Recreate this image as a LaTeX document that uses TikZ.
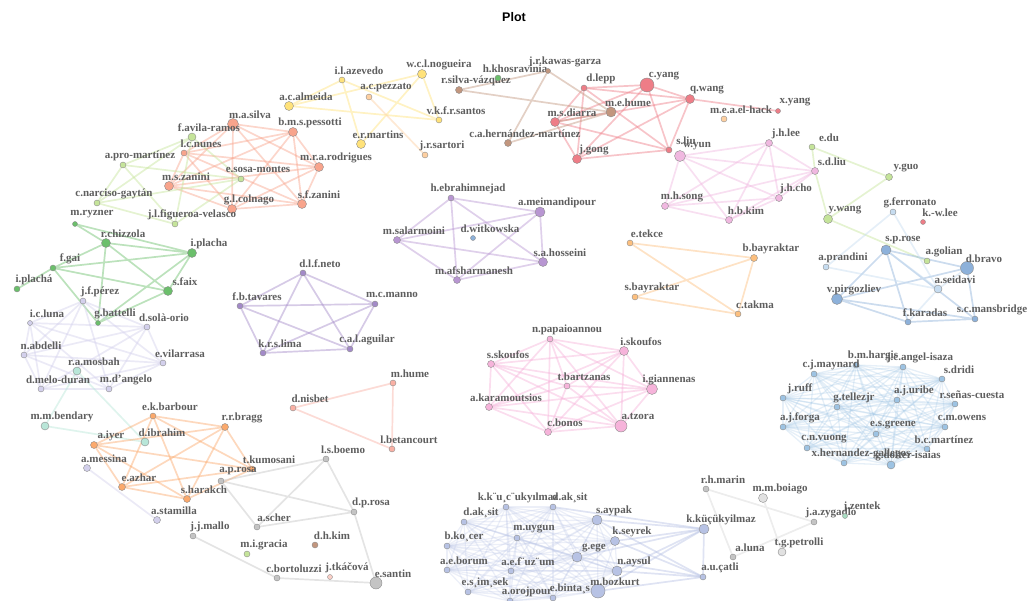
\documentclass[tikz,border=0pt]{standalone}
\usepackage{fontspec}
\setmainfont{Liberation Serif}
\newfontfamily\titlefont{Liberation Sans}
\usetikzlibrary{positioning}

\definecolor{labgray}{HTML}{5E5E5E}
\definecolor{cYel}{HTML}{FFE27A}
\definecolor{cPeach}{HTML}{FDCFA0}
\definecolor{cSalmon}{HTML}{F8A48C}
\definecolor{cLgreen}{HTML}{C5E49A}
\definecolor{cGreen}{HTML}{6BBF6B}
\definecolor{cLav}{HTML}{D3D0EC}
\definecolor{cTeal}{HTML}{B8E6D8}
\definecolor{cOrange}{HTML}{FBA96C}
\definecolor{cGray}{HTML}{C4C4C4}
\definecolor{cCoral}{HTML}{F9B0A4}
\definecolor{cPurp}{HTML}{B896D2}
\definecolor{cViolet}{HTML}{A38AC8}
\definecolor{cPink}{HTML}{F6B3DA}
\definecolor{cLorange}{HTML}{FCBF7E}
\definecolor{cRed}{HTML}{EE7D87}
\definecolor{cBrown}{HTML}{C2967E}
\definecolor{cLilac}{HTML}{F0B8E0}
\definecolor{cBlue}{HTML}{8DB1DA}
\definecolor{cLblue}{HTML}{C6DCF0}
\definecolor{cSteel}{HTML}{9DC3E3}
\definecolor{cPeri}{HTML}{B7C2E4}

\pgfdeclarelayer{ties}
\pgfsetlayers{ties,main}

\begin{document}
\begin{tikzpicture}[
  x=1pt, y=-1pt,
  au/.style={circle, draw=black!45, line width=0.4pt, inner sep=0pt, minimum size=6pt},
  lab/.style={font=\bfseries\fontsize{11}{12}\selectfont, text=labgray, inner sep=0pt,
              xshift=17pt, yshift=9.5pt},
  tie/.style={line width=1.7pt, draw opacity=0.45, line cap=round},
  thin tie/.style={line width=1.3pt, draw opacity=0.26, line cap=round}
]
\useasboundingbox (0,0) rectangle (1028,601);

\node[font=\titlefont\bfseries\fontsize{12.5}{14}\selectfont] (title) at (514,17) {Plot};

%--------------------------------------------------------------
% Gruppo giallo (azevedo, nogueira, ...)
%--------------------------------------------------------------
\node[au, fill=cYel, label={[lab]center:i.l.azevedo}] (azevedo) at (342,80) {};
\node[au, fill=cYel, minimum size=9pt, label={[lab]center:w.c.l.nogueira}] (nogueira) at (422,74) {};
\node[au, fill=cPeach, label={[lab]center:a.c.pezzato}] (pezzato) at (369,97) {};
\node[au, fill=cYel, minimum size=9pt, label={[lab]center:a.c.almeida}] (almeida) at (289,106) {};
\node[au, fill=cYel, label={[lab]center:v.k.f.r.santos}] (santos) at (439,120) {};
\node[au, fill=cYel, minimum size=9pt, label={[lab]center:e.r.martins}] (martins) at (361,144) {};
\node[au, fill=cPeach, label={[lab]center:j.r.sartori}] (sartori) at (425,155) {};

%--------------------------------------------------------------
% Gruppo salmone e verde chiaro
%--------------------------------------------------------------
\node[au, fill=cSalmon, minimum size=11pt, label={[lab]center:m.a.silva}] (masilva) at (233,124) {};
\node[au, fill=cSalmon, minimum size=9pt, label={[lab]center:b.m.s.pessotti}] (pessotti) at (293,132) {};
\node[au, fill=cSalmon, minimum size=9pt, label={[lab]center:m.r.a.rodrigues}] (rodrigues) at (319,167) {};
\node[au, fill=cSalmon, label={[lab]center:l.c.nunes}] (nunes) at (184,153) {};
\node[au, fill=cSalmon, minimum size=9pt, label={[lab]center:m.s.zanini}] (mszanini) at (169,186) {};
\node[au, fill=cSalmon, minimum size=9pt, label={[lab]center:g.l.colnago}] (colnago) at (232,209) {};
\node[au, fill=cSalmon, minimum size=9pt, label={[lab]center:s.f.zanini}] (sfzanini) at (302,204) {};
\node[au, fill=cLgreen, minimum size=8pt, label={[lab]center:f.avila-ramos}] (avila) at (192,137) {};
\node[au, fill=cLgreen, label={[lab]center:a.pro-martínez}] (promart) at (123,165) {};
\node[au, fill=cLgreen, label={[lab]center:e.sosa-montes}] (sosa) at (241,179) {};
\node[au, fill=cLgreen, label={[lab]center:c.narciso-gaytán}] (narciso) at (97,203) {};
\node[au, fill=cLgreen, label={[lab]center:j.l.figueroa-velasco}] (figueroa) at (175,224) {};

%--------------------------------------------------------------
% Gruppo verde
%--------------------------------------------------------------
\node[au, fill=cGreen, minimum size=5pt, label={[lab]center:m.ryzner}] (ryzner) at (75,224) {};
\node[au, fill=cGreen, minimum size=9pt, label={[lab]center:r.chizzola}] (chizzola) at (106,243) {};
\node[au, fill=cGreen, minimum size=9pt, label={[lab]center:i.placha}] (placha) at (192,253) {};
\node[au, fill=cGreen, label={[lab]center:f.gai}] (gai) at (53,268) {};
\node[au, fill=cGreen, label={[lab]center:i.plachá}] (placha2) at (17,289) {};
\node[au, fill=cGreen, minimum size=9pt, label={[lab]center:s.faix}] (faix) at (168,291) {};
\node[au, fill=cGreen, minimum size=5pt, label={[lab]center:g.battelli}] (battelli) at (98,323) {};

%--------------------------------------------------------------
% Gruppo lavanda e acqua
%--------------------------------------------------------------
\node[au, fill=cLav, label={[lab]center:j.f.pérez}] (perez) at (83,301) {};
\node[au, fill=cLav, minimum size=5pt, label={[lab]center:i.c.luna}] (luna) at (30,323) {};
\node[au, fill=cLav, label={[lab]center:d.solà-orio}] (sola) at (147,327) {};
\node[au, fill=cLav, label={[lab]center:n.abdelli}] (abdelli) at (24,355) {};
\node[au, fill=cLav, label={[lab]center:e.vilarrasa}] (vilarrasa) at (163,363) {};
\node[au, fill=cTeal, minimum size=8pt, label={[lab]center:r.a.mosbah}] (mosbah) at (77,371) {};
\node[au, fill=cLav, label={[lab]center:d.melo-duran}] (melo) at (41,389) {};
\node[au, fill=cLav, label={[lab]center:m.d'angelo}] (dangelo) at (109,389) {};

%--------------------------------------------------------------
% Gruppo arancio
%--------------------------------------------------------------
\node[au, fill=cTeal, minimum size=8pt, label={[lab]center:m.m.bendary}] (bendary) at (45,426) {};
\node[au, fill=cOrange, label={[lab]center:e.k.barbour}] (barbour) at (153,416) {};
\node[au, fill=cOrange, minimum size=7pt, label={[lab]center:r.r.bragg}] (bragg) at (225,427) {};
\node[au, fill=cOrange, minimum size=7pt, label={[lab]center:a.iyer}] (iyer) at (94,445) {};
\node[au, fill=cTeal, minimum size=8pt, label={[lab]center:d.ibrahim}] (ibrahim) at (145,442) {};
\node[au, fill=cLav, minimum size=7pt, label={[lab]center:a.messina}] (messina) at (87,468) {};
\node[au, fill=cOrange, label={[lab]center:t.kumosani}] (kumosani) at (252,469) {};
\node[au, fill=cGray, label={[lab]center:a.p.rosa}] (aprosa) at (221,481) {};
\node[au, fill=cOrange, minimum size=7pt, label={[lab]center:e.azhar}] (azhar) at (122,487) {};
\node[au, fill=cOrange, minimum size=7pt, label={[lab]center:s.harakch}] (harakch) at (187,499) {};
\node[au, fill=cLav, minimum size=7pt, label={[lab]center:a.stamilla}] (stamilla) at (157,520) {};
\node[au, fill=cGray, label={[lab]center:j.j.mallo}] (mallo) at (193,536) {};
\node[au, fill=cLgreen, label={[lab]center:m.i.gracia}] (gracia) at (247,554) {};
\node[au, fill=cGray, label={[lab]center:c.bortoluzzi}] (bortoluzzi) at (277,578) {};

%--------------------------------------------------------------
% Gruppo grigio e corallo
%--------------------------------------------------------------
\node[au, fill=cGray, label={[lab]center:l.s.boemo}] (boemo) at (326,459) {};
\node[au, fill=cGray, label={[lab]center:d.p.rosa}] (dprosa) at (354,512) {};
\node[au, fill=cGray, label={[lab]center:a.scher}] (scher) at (257,527) {};
\node[au, fill=cBrown, label={[lab]center:d.h.kim}] (dhkim) at (315,545) {};
\node[au, fill=cCoral!60, minimum size=5pt, label={[lab]center:j.tkáčová}] (tkacova) at (330,577) {};
\node[au, fill=cGray, minimum size=12pt, label={[lab]center:e.santin}] (santin) at (376,583) {};
\node[au, fill=cCoral, label={[lab]center:d.nisbet}] (nisbet) at (293,408) {};
\node[au, fill=cCoral, label={[lab]center:m.hume}] (mhume) at (393,383) {};
\node[au, fill=cCoral, label={[lab]center:l.betancourt}] (betancourt) at (392,449) {};

%--------------------------------------------------------------
% Gruppi viola
%--------------------------------------------------------------
\node[au, fill=cPurp, label={[lab]center:h.ebrahimnejad}] (ebrahim) at (451,198) {};
\node[au, fill=cPurp, minimum size=10pt, label={[lab]center:a.meimandipour}] (meiman) at (540,212) {};
\node[au, fill=cPurp, minimum size=7pt, label={[lab]center:m.salarmoini}] (salarm) at (397,240) {};
\node[au, fill=cBlue, minimum size=5pt, label={[lab]center:d.witkowska}] (witkow) at (473,238) {};
\node[au, fill=cPurp, minimum size=9pt, label={[lab]center:s.a.hosseini}] (hosseini) at (543,262) {};
\node[au, fill=cPurp, minimum size=7pt, label={[lab]center:m.afsharmanesh}] (afshar) at (457,280) {};
\node[au, fill=cViolet, label={[lab]center:d.l.f.neto}] (neto) at (303,273) {};
\node[au, fill=cViolet, label={[lab]center:f.b.tavares}] (tavares) at (240,306) {};
\node[au, fill=cViolet, label={[lab]center:m.c.manno}] (manno) at (375,304) {};
\node[au, fill=cViolet, label={[lab]center:k.r.s.lima}] (lima) at (263,353) {};
\node[au, fill=cViolet, label={[lab]center:c.a.l.aguilar}] (aguilar) at (350,349) {};

%--------------------------------------------------------------
% Gruppo rosa e arancio chiaro
%--------------------------------------------------------------
\node[au, fill=cPink, label={[lab]center:n.papaioannou}] (papaio) at (550,339) {};
\node[au, fill=cPink, minimum size=9pt, label={[lab]center:i.skoufos}] (iskoufos) at (624,351) {};
\node[au, fill=cPink, minimum size=7pt, label={[lab]center:s.skoufos}] (sskoufos) at (491,364) {};
\node[au, fill=cPink, label={[lab]center:t.bartzanas}] (bartz) at (567,386) {};
\node[au, fill=cPink, minimum size=11pt, label={[lab]center:i.giannenas}] (giann) at (652,389) {};
\node[au, fill=cPink, minimum size=7pt, label={[lab]center:a.karamoutsios}] (karam) at (489,407) {};
\node[au, fill=cPink, minimum size=7pt, label={[lab]center:c.bonos}] (bonos) at (548,432) {};
\node[au, fill=cPink, minimum size=12pt, label={[lab]center:a.tzora}] (tzora) at (621,426) {};
\node[au, fill=cLorange, label={[lab]center:e.tekce}] (tekce) at (630,243) {};
\node[au, fill=cLorange, minimum size=7pt, label={[lab]center:b.bayraktar}] (bbayr) at (754,258) {};
\node[au, fill=cLorange, label={[lab]center:s.bayraktar}] (sbayr) at (635,297) {};
\node[au, fill=cLorange, label={[lab]center:c.takma}] (takma) at (738,314) {};

%--------------------------------------------------------------
% Gruppo rosso e marrone
%--------------------------------------------------------------
\node[au, fill=cRed, label={[lab]center:d.lepp}] (dlepp) at (584,88) {};
\node[au, fill=cRed, minimum size=14pt, label={[lab]center:c.yang}] (cyang) at (647,85) {};
\node[au, fill=cRed, minimum size=9pt, label={[lab]center:q.wang}] (qwang) at (690,99) {};
\node[au, fill=cBrown, minimum size=10pt, label={[lab]center:m.e.hume}] (mehume) at (611,112) {};
\node[au, fill=cRed, minimum size=9pt, label={[lab]center:m.s.diarra}] (diarra) at (555,122) {};
\node[au, fill=cPeach, label={[lab]center:m.e.a.el-hack}] (elhack) at (724,119) {};
\node[au, fill=cRed, minimum size=5pt, label={[lab]center:x.yang}] (xyang) at (778,111) {};
\node[au, fill=cRed, minimum size=9pt, label={[lab]center:j.gong}] (jgong) at (577,159) {};
\node[au, fill=cRed, label={[lab]center:s.liu}] (sliu) at (669,150) {};
\node[au, fill=cLilac, minimum size=11pt, label={[lab]center:w.yun}] (wyun) at (680,156) {};
\node[au, fill=cBrown, minimum size=7pt, label={[lab]center:r.silva-vázquez}] (silva) at (459,90) {};
\node[au, fill=cGreen, label={[lab]center:h.khosravinia}] (khosra) at (498,78) {};
\node[au, fill=cBrown, minimum size=5pt, label={[lab]center:j.r.kawas-garza}] (kawas) at (548,71) {};
\node[au, fill=cBrown, minimum size=7pt, label={[lab]center:c.a.hernández-martínez}] (hernandez) at (508,143) {};

%--------------------------------------------------------------
% Gruppo lilla e verde chiaro a destra
%--------------------------------------------------------------
\node[au, fill=cLilac, minimum size=7pt, label={[lab]center:j.h.lee}] (jhlee) at (769,143) {};
\node[au, fill=cLilac, minimum size=7pt, label={[lab]center:s.d.liu}] (sdliu) at (815,171) {};
\node[au, fill=cLilac, minimum size=7pt, label={[lab]center:j.h.cho}] (jhcho) at (779,198) {};
\node[au, fill=cLilac, minimum size=7pt, label={[lab]center:m.h.song}] (mhsong) at (665,206) {};
\node[au, fill=cLilac, minimum size=7pt, label={[lab]center:h.b.kim}] (hbkim) at (729,220) {};
\node[au, fill=cLgreen, label={[lab]center:e.du}] (edu) at (812,147) {};
\node[au, fill=cLgreen, minimum size=7pt, label={[lab]center:y.guo}] (yguo) at (889,177) {};
\node[au, fill=cLgreen, minimum size=9pt, label={[lab]center:y.wang}] (ywang) at (828,219) {};
\node[au, fill=cLgreen, label={[lab]center:a.golian}] (golian) at (927,261) {};

%--------------------------------------------------------------
% Gruppo blu (rose, bravo, ...)
%--------------------------------------------------------------
\node[au, fill=cLblue, label={[lab]center:g.ferronato}] (ferron) at (893,212) {};
\node[au, fill=cRed, minimum size=5pt, label={[lab]center:k.-w.lee}] (kwlee) at (923,222) {};
\node[au, fill=cBlue, minimum size=10pt, label={[lab]center:s.p.rose}] (sprose) at (886,250) {};
\node[au, fill=cLblue, label={[lab]center:a.prandini}] (prandini) at (826,267) {};
\node[au, fill=cBlue, minimum size=13pt, label={[lab]center:d.bravo}] (bravo) at (967,268) {};
\node[au, fill=cLblue, minimum size=8pt, label={[lab]center:a.seidavi}] (seidavi) at (938,289) {};
\node[au, fill=cBlue, minimum size=11pt, label={[lab]center:v.pirgozliev}] (pirgo) at (837,299) {};
\node[au, fill=cBlue, label={[lab]center:f.karadas}] (karadas) at (908,322) {};
\node[au, fill=cBlue, label={[lab]center:s.c.mansbridge}] (mansb) at (975,319) {};

%--------------------------------------------------------------
% Gruppo azzurro denso
%--------------------------------------------------------------
\node[au, fill=cSteel, label={[lab]center:b.m.hargis}] (hargis) at (856,365) {};
\node[au, fill=cSteel, label={[lab]center:j.c.angel-isaza}] (angel) at (903,367) {};
\node[au, fill=cSteel, label={[lab]center:c.j.maynard}] (maynard) at (814,374) {};
\node[au, fill=cSteel, label={[lab]center:s.dridi}] (dridi) at (942,379) {};
\node[au, fill=cSteel, label={[lab]center:j.ruff}] (ruff) at (783,398) {};
\node[au, fill=cSteel, label={[lab]center:a.j.uribe}] (uribe) at (897,400) {};
\node[au, fill=cSteel, label={[lab]center:g.tellezjr}] (tellez) at (837,407) {};
\node[au, fill=cSteel, label={[lab]center:r.señas-cuesta}] (senas) at (955,404) {};
\node[au, fill=cSteel, label={[lab]center:a.j.forga}] (forga) at (783,427) {};
\node[au, fill=cSteel, label={[lab]center:c.m.owens}] (owens) at (945,427) {};
\node[au, fill=cSteel, label={[lab]center:e.s.greene}] (greene) at (876,434) {};
\node[au, fill=cSteel, label={[lab]center:c.n.vuong}] (vuong) at (807,448) {};
\node[au, fill=cSteel, label={[lab]center:b.c.martínez}] (bcmart) at (927,449) {};
\node[au, fill=cSteel, label={[lab]center:x.hernandez-gallegos}] (xhern) at (844,463) {};
\node[au, fill=cSteel, minimum size=8pt, label={[lab]center:g.dolter-isaias}] (dolter) at (891,465) {};

%--------------------------------------------------------------
% Gruppo pervinca in basso
%--------------------------------------------------------------
\node[au, fill=cPeri, label={[lab,xshift=-5pt]center:k.k¨u¸c¨ukyılmaz}] (kkuc) at (506,507) {};
\node[au, fill=cPeri, label={[lab]center:d.ak¸sit}] (daksitb) at (553,507) {};
\node[au, fill=cPeri, label={[lab]center:d.ak¸sit}] (daksit) at (464,522) {};
\node[au, fill=cPeri, minimum size=10pt, label={[lab]center:s.aypak}] (saypak) at (597,520) {};
\node[au, fill=cPeri, label={[lab]center:m.uygun}] (muygun) at (517,538) {};
\node[au, fill=cPeri, label={[lab]center:b.ko¸cer}] (bkocer) at (447,546) {};
\node[au, fill=cPeri, minimum size=9pt, label={[lab]center:k.seyrek}] (kseyrek) at (615,541) {};
\node[au, fill=cPeri, minimum size=10pt, label={[lab]center:g.ege}] (gege) at (577,557) {};
\node[au, fill=cPeri, label={[lab]center:a.e.borum}] (aeborum) at (447,570) {};
\node[au, fill=cPeri, label={[lab]center:a.e.f¨uz¨um}] (fuzum) at (511,571) {};
\node[au, fill=cPeri, minimum size=10pt, label={[lab]center:n.aysul}] (naysul) at (617,571) {};
\node[au, fill=cPeri, label={[lab]center:e.s¸im¸sek}] (simsek) at (468,592) {};
\node[au, fill=cPeri, label={[lab]center:a.orojpour}] (orojpour) at (510,601) {};
\node[au, fill=cPeri, label={[lab]center:e.binta¸s}] (bintas) at (553,598) {};
\node[au, fill=cPeri, minimum size=14pt, label={[lab]center:m.bozkurt}] (bozkurt) at (598,591) {};
\node[au, fill=cPeri, minimum size=10pt, label={[lab]center:k.küçükyilmaz}] (kucuk) at (704,529) {};
\node[au, fill=cPeri, label={[lab]center:a.u.çatli}] (catli) at (703,577) {};

%--------------------------------------------------------------
% Gruppo grigio in basso a destra
%--------------------------------------------------------------
\node[au, fill=cGray, label={[lab]center:r.h.marin}] (marin) at (706,489) {};
\node[au, fill=cGray!50, minimum size=9pt, label={[lab]center:m.m.boiago}] (boiago) at (763,498) {};
\node[au, fill=cGray, label={[lab]center:j.a.zygadlo}] (zygadlo) at (814,522) {};
\node[au, fill=cTeal!80!cGreen, minimum size=5pt, label={[lab]center:j.zentek}] (zentek) at (845,516) {};
\node[au, fill=cGray, label={[lab]center:a.luna}] (aluna) at (733,557) {};
\node[au, fill=cGray!50, minimum size=8pt, label={[lab]center:t.g.petrolli}] (petrolli) at (782,552) {};

%--------------------------------------------------------------
% Collegamenti
%--------------------------------------------------------------
\begin{pgfonlayer}{ties}
\draw[tie, cYel] (almeida) -- (azevedo) (almeida) -- (nogueira) (almeida) -- (santos)
  (azevedo) -- (martins) (azevedo) -- (santos) (nogueira) -- (santos) (nogueira) -- (martins);
\draw[tie, cPeach] (pezzato) -- (sartori);

\foreach \a [count=\i] in {masilva,pessotti,rodrigues,nunes,mszanini,colnago,sfzanini}
  \foreach \b [count=\j] in {masilva,pessotti,rodrigues,nunes,mszanini,colnago,sfzanini}
    {\ifnum\i<\j \draw[tie, cSalmon] (\a) -- (\b); \fi}
\foreach \a [count=\i] in {avila,promart,sosa,narciso,figueroa}
  \foreach \b [count=\j] in {avila,promart,sosa,narciso,figueroa}
    {\ifnum\i<\j \draw[tie, cLgreen] (\a) -- (\b); \fi}

\draw[tie, cGreen] (ryzner) -- (chizzola) (ryzner) -- (placha) (chizzola) -- (gai)
  (chizzola) -- (placha) (chizzola) -- (faix) (chizzola) -- (battelli) (gai) -- (placha)
  (gai) -- (faix) (gai) -- (placha2) (gai) -- (battelli) (placha) -- (faix)
  (placha) -- (battelli) (faix) -- (battelli);

\foreach \a [count=\i] in {perez,luna,sola,abdelli,vilarrasa,melo,dangelo}
  \foreach \b [count=\j] in {perez,luna,sola,abdelli,vilarrasa,melo,dangelo}
    {\ifnum\i<\j \draw[tie, cLav] (\a) -- (\b); \fi}
\draw[tie, cTeal] (mosbah) -- (bendary) (mosbah) -- (ibrahim) (bendary) -- (ibrahim);

\foreach \a [count=\i] in {barbour,bragg,iyer,azhar,harakch,kumosani}
  \foreach \b [count=\j] in {barbour,bragg,iyer,azhar,harakch,kumosani}
    {\ifnum\i<\j \draw[tie, cOrange] (\a) -- (\b); \fi}
\draw[tie, cLav] (messina) -- (stamilla);
\draw[tie, cGray] (mallo) -- (bortoluzzi) (aprosa) -- (boemo) (aprosa) -- (dprosa)
  (aprosa) -- (scher) (boemo) -- (scher) (boemo) -- (dprosa) (scher) -- (dprosa)
  (dprosa) -- (santin) (bortoluzzi) -- (santin);
\draw[tie, cCoral] (nisbet) -- (mhume) (nisbet) -- (betancourt) (mhume) -- (betancourt);

\foreach \a [count=\i] in {ebrahim,meiman,salarm,hosseini,afshar}
  \foreach \b [count=\j] in {ebrahim,meiman,salarm,hosseini,afshar}
    {\ifnum\i<\j \draw[tie, cPurp] (\a) -- (\b); \fi}
\foreach \a [count=\i] in {neto,tavares,manno,lima,aguilar}
  \foreach \b [count=\j] in {neto,tavares,manno,lima,aguilar}
    {\ifnum\i<\j \draw[tie, cViolet] (\a) -- (\b); \fi}
\foreach \a [count=\i] in {papaio,iskoufos,sskoufos,bartz,giann,karam,bonos,tzora}
  \foreach \b [count=\j] in {papaio,iskoufos,sskoufos,bartz,giann,karam,bonos,tzora}
    {\ifnum\i<\j \draw[tie, cPink] (\a) -- (\b); \fi}
\draw[tie, cLorange] (tekce) -- (bbayr) (tekce) -- (takma) (bbayr) -- (takma)
  (sbayr) -- (takma) (sbayr) -- (bbayr);

\foreach \a [count=\i] in {dlepp,cyang,qwang,diarra,jgong,sliu}
  \foreach \b [count=\j] in {dlepp,cyang,qwang,diarra,jgong,sliu}
    {\ifnum\i<\j \draw[tie, cRed] (\a) -- (\b); \fi}
\draw[tie, cRed] (qwang) -- (xyang);
\draw[tie, cBrown] (silva) -- (kawas) (silva) -- (mehume) (kawas) -- (hernandez)
  (kawas) -- (mehume) (hernandez) -- (mehume) (diarra) -- (mehume);

\foreach \a [count=\i] in {wyun,jhlee,sdliu,jhcho,mhsong,hbkim}
  \foreach \b [count=\j] in {wyun,jhlee,sdliu,jhcho,mhsong,hbkim}
    {\ifnum\i<\j \draw[tie, cLilac] (\a) -- (\b); \fi}
\draw[tie, cLgreen] (edu) -- (sdliu) (sdliu) -- (ywang) (edu) -- (yguo) (yguo) -- (ywang)
  (ywang) -- (golian);

\draw[tie, cBlue] (sprose) -- (bravo) (sprose) -- (pirgo) (sprose) -- (karadas)
  (sprose) -- (mansb) (bravo) -- (pirgo) (bravo) -- (mansb) (pirgo) -- (karadas)
  (pirgo) -- (mansb) (karadas) -- (mansb);
\draw[tie, cLblue] (ferron) -- (prandini) (ferron) -- (seidavi) (prandini) -- (seidavi)
  (seidavi) -- (karadas) (seidavi) -- (bravo) (sprose) -- (seidavi);

\foreach \a [count=\i] in {hargis,angel,maynard,dridi,ruff,uribe,tellez,senas,forga,owens,greene,vuong,bcmart,xhern,dolter}
  \foreach \b [count=\j] in {hargis,angel,maynard,dridi,ruff,uribe,tellez,senas,forga,owens,greene,vuong,bcmart,xhern,dolter}
    {\ifnum\i<\j \draw[thin tie, cSteel] (\a) -- (\b); \fi}

\foreach \a [count=\i] in {kkuc,daksitb,daksit,saypak,muygun,bkocer,kseyrek,gege,aeborum,fuzum,naysul,simsek,orojpour,bintas,bozkurt}
  \foreach \b [count=\j] in {kkuc,daksitb,daksit,saypak,muygun,bkocer,kseyrek,gege,aeborum,fuzum,naysul,simsek,orojpour,bintas,bozkurt}
    {\ifnum\i<\j \draw[thin tie, cPeri] (\a) -- (\b); \fi}
\foreach \b in {saypak,kseyrek,gege,naysul,bozkurt,daksitb,catli}
  \draw[tie, cPeri] (kucuk) -- (\b);
\foreach \b in {saypak,kseyrek,gege,naysul,bozkurt}
  \draw[tie, cPeri] (catli) -- (\b);

\draw[tie, cGray!70] (marin) -- (zygadlo) (marin) -- (aluna) (boiago) -- (petrolli)
  (aluna) -- (zygadlo);
\end{pgfonlayer}

\end{tikzpicture}
\end{document}
